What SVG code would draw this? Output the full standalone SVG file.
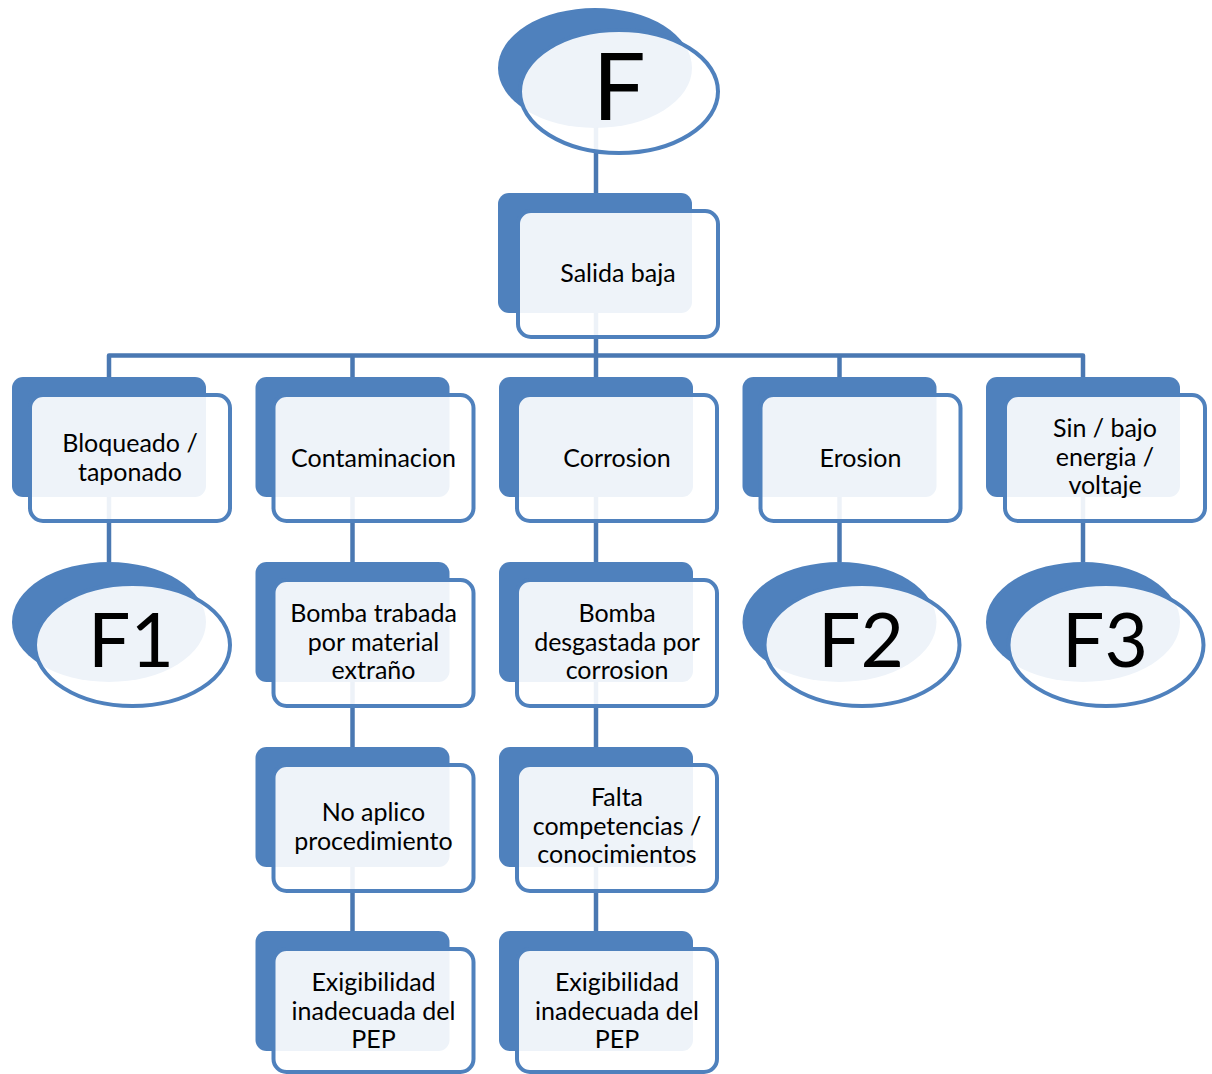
<svg xmlns="http://www.w3.org/2000/svg" width="1212" height="1074" viewBox="0 0 1212 1074">
  <style>
    .back { fill: #4F81BD; }
    .front { fill: #FFFFFF; fill-opacity: 0.9; stroke: #4F81BD; stroke-width: 4; }
    .wire { fill: none; stroke: #4A78B2; stroke-width: 4.5; stroke-linejoin: round; }
    .lbl { font-family: Lato, "Liberation Sans", sans-serif; font-size: 25px; fill: #000; text-anchor: middle; }
    .big { font-family: Lato, "Liberation Sans", sans-serif; fill: #000; text-anchor: middle; }
  </style>
  <rect width="1212" height="1074" fill="#FFFFFF"/>

  <!-- connectors -->
  <g id="connectors">
    <path class="wire" d="M596 125 V193"/>
    <path class="wire" d="M596 313 V377"/>
    <path class="wire" d="M109 377 V355.5 H1083 V377"/>
    <path class="wire" d="M352.5 355.5 V377"/>
    <path class="wire" d="M839.5 355.5 V377"/>
    <path class="wire" d="M109 497 V562"/>
    <path class="wire" d="M352.5 497 V562"/>
    <path class="wire" d="M596 497 V562"/>
    <path class="wire" d="M839.5 497 V562"/>
    <path class="wire" d="M1083 497 V562"/>
    <path class="wire" d="M352.5 682 V747"/>
    <path class="wire" d="M596 682 V747"/>
    <path class="wire" d="M352.5 867 V931"/>
    <path class="wire" d="M596 867 V931"/>
  </g>

  <!-- root -->
  <g id="node-F">
    <ellipse class="back" cx="595" cy="68" rx="97" ry="60"/>
    <ellipse class="front" cx="619" cy="91.5" rx="99" ry="61.5"/>
    <text class="big" x="619" y="120" font-size="94">F</text>
  </g>

  <g id="node-salida">
    <rect class="back" x="498" y="193" width="194" height="120" rx="11"/>
    <rect class="front" x="518" y="211" width="200" height="126" rx="13"/>
    <text class="lbl" x="618" y="282">Salida baja</text>
  </g>

  <!-- second level -->
  <g id="node-bloqueado">
    <rect class="back" x="12" y="377" width="194" height="120" rx="11"/>
    <rect class="front" x="30" y="395" width="200" height="126" rx="13"/>
    <text class="lbl" x="130" y="452">Bloqueado /</text>
    <text class="lbl" x="130" y="480.5">taponado</text>
  </g>

  <g id="node-contaminacion">
    <rect class="back" x="255.5" y="377" width="194" height="120" rx="11"/>
    <rect class="front" x="273.5" y="395" width="200" height="126" rx="13"/>
    <text class="lbl" x="373.5" y="466.5">Contaminacion</text>
  </g>

  <g id="node-corrosion">
    <rect class="back" x="499" y="377" width="194" height="120" rx="11"/>
    <rect class="front" x="517" y="395" width="200" height="126" rx="13"/>
    <text class="lbl" x="617" y="466.5">Corrosion</text>
  </g>

  <g id="node-erosion">
    <rect class="back" x="742.5" y="377" width="194" height="120" rx="11"/>
    <rect class="front" x="760.5" y="395" width="200" height="126" rx="13"/>
    <text class="lbl" x="860.5" y="466.5">Erosion</text>
  </g>

  <g id="node-energia">
    <rect class="back" x="986" y="377" width="194" height="120" rx="11"/>
    <rect class="front" x="1005" y="395" width="200" height="126" rx="13"/>
    <text class="lbl" x="1105" y="437">Sin / bajo</text>
    <text class="lbl" x="1105" y="465.5">energia /</text>
    <text class="lbl" x="1105" y="494">voltaje</text>
  </g>

  <!-- third level -->
  <g id="node-F1">
    <ellipse class="back" cx="109" cy="622" rx="97" ry="60"/>
    <ellipse class="front" cx="132.5" cy="645" rx="97.5" ry="61"/>
    <text class="big" x="131" y="667" font-size="75">F1</text>
  </g>

  <g id="node-bomba-trabada">
    <rect class="back" x="255.5" y="562" width="194" height="120" rx="11"/>
    <rect class="front" x="273.5" y="580" width="200" height="126" rx="13"/>
    <text class="lbl" x="373.5" y="622">Bomba trabada</text>
    <text class="lbl" x="373.5" y="650.5">por material</text>
    <text class="lbl" x="373.5" y="679">extraño</text>
  </g>

  <g id="node-bomba-desgastada">
    <rect class="back" x="499" y="562" width="194" height="120" rx="11"/>
    <rect class="front" x="517" y="580" width="200" height="126" rx="13"/>
    <text class="lbl" x="617" y="622">Bomba</text>
    <text class="lbl" x="617" y="650.5">desgastada por</text>
    <text class="lbl" x="617" y="679">corrosion</text>
  </g>

  <g id="node-F2">
    <ellipse class="back" cx="839.5" cy="622" rx="97" ry="60"/>
    <ellipse class="front" cx="862" cy="645" rx="97.5" ry="61"/>
    <text class="big" x="861" y="667" font-size="75">F2</text>
  </g>

  <g id="node-F3">
    <ellipse class="back" cx="1083" cy="622" rx="97" ry="60"/>
    <ellipse class="front" cx="1106" cy="645" rx="97.5" ry="61"/>
    <text class="big" x="1105" y="667" font-size="75">F3</text>
  </g>

  <!-- fourth level -->
  <g id="node-no-aplico">
    <rect class="back" x="255.5" y="747" width="194" height="120" rx="11"/>
    <rect class="front" x="273.5" y="765" width="200" height="126" rx="13"/>
    <text class="lbl" x="373.5" y="821">No aplico</text>
    <text class="lbl" x="373.5" y="849.5">procedimiento</text>
  </g>

  <g id="node-falta-competencias">
    <rect class="back" x="499" y="747" width="194" height="120" rx="11"/>
    <rect class="front" x="517" y="765" width="200" height="126" rx="13"/>
    <text class="lbl" x="617" y="806">Falta</text>
    <text class="lbl" x="617" y="834.5">competencias /</text>
    <text class="lbl" x="617" y="863">conocimientos</text>
  </g>

  <!-- fifth level -->
  <g id="node-exigibilidad-1">
    <rect class="back" x="255.5" y="931" width="194" height="120" rx="11"/>
    <rect class="front" x="273.5" y="949" width="200" height="123" rx="13"/>
    <text class="lbl" x="373.5" y="991">Exigibilidad</text>
    <text class="lbl" x="373.5" y="1019.5">inadecuada del</text>
    <text class="lbl" x="373.5" y="1048">PEP</text>
  </g>

  <g id="node-exigibilidad-2">
    <rect class="back" x="499" y="931" width="194" height="120" rx="11"/>
    <rect class="front" x="517" y="949" width="200" height="123" rx="13"/>
    <text class="lbl" x="617" y="991">Exigibilidad</text>
    <text class="lbl" x="617" y="1019.5">inadecuada del</text>
    <text class="lbl" x="617" y="1048">PEP</text>
  </g>
</svg>
